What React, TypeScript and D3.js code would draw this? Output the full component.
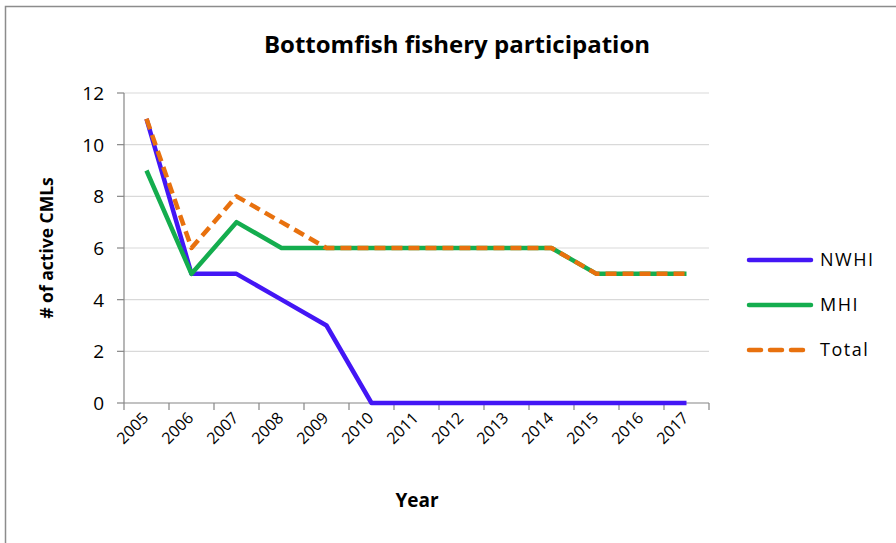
import React from "react";
import * as d3 from "d3";

const years = ["2005", "2006", "2007", "2008", "2009", "2010", "2011", "2012", "2013", "2014", "2015", "2016", "2017"];
const nwhi = [11, 5, 5, 4, 3, 0, 0, 0, 0, 0, 0, 0, 0];
const mhi = [9, 5, 7, 6, 6, 6, 6, 6, 6, 6, 5, 5, 5];
const total = [11, 6, 8, 7, 6, 6, 6, 6, 6, 6, 5, 5, 5];
const yTicks = [0, 2, 4, 6, 8, 10, 12];

const series = [
  { name: "NWHI", values: nwhi, color: "#4316f5", dash: null },
  { name: "MHI", values: mhi, color: "#14ad4e", dash: null },
  { name: "Total", values: total, color: "#e8710e", dash: "11 6" },
];

const W = 896;
const H = 543;
const font = "'Open Sans', Lato, sans-serif";

const App = () => {
  const x = d3.scaleBand().domain(years).range([124, 709]);
  const y = d3.scaleLinear().domain([0, 12]).range([403, 93]);
  const line = d3
    .line<number>()
    .x((d, i) => x(years[i])! + x.bandwidth() / 2)
    .y((d) => y(d));

  const boundaries = [...years.map((yr) => x(yr)!), x.range()[1]];

  return (
    <svg width={W} height={H} style={{ position: "absolute", left: 0, top: 0 }} fontFamily={font}>
      <rect x={0} y={0} width={W} height={H} fill="#fff" />
      {/* chart border */}
      <path d={`M5.5,${H} V6.5 H${W}`} fill="none" stroke="#8c8c8c" strokeWidth={1.5} />

      <text x={457} y={53} textAnchor="middle" fontSize={24} fontWeight="bold" fill="#000">
        Bottomfish fishery participation
      </text>

      {/* gridlines */}
      {yTicks.filter((t) => t > 0).map((t) => (
        <line key={t} x1={124} x2={709} y1={y(t)} y2={y(t)} stroke="#d9d9d9" strokeWidth={1.2} />
      ))}

      {/* y axis */}
      <line x1={124} x2={124} y1={93} y2={403} stroke="#868686" strokeWidth={1.2} />
      {yTicks.map((t) => (
        <g key={t}>
          <line x1={117} x2={124} y1={y(t)} y2={y(t)} stroke="#868686" strokeWidth={1.2} />
          <text x={104} y={y(t)} dy="0.36em" textAnchor="end" fontSize={19} fill="#000">
            {t}
          </text>
        </g>
      ))}
      <text
        transform={`translate(53,${y(6)}) rotate(-90)`}
        textAnchor="middle"
        fontSize={17.5}
        fontWeight="bold"
        fill="#000"
      >
        # of active CMLs
      </text>

      {/* x axis */}
      <line x1={124} x2={709} y1={403} y2={403} stroke="#868686" strokeWidth={1.2} />
      {boundaries.map((b, i) => (
        <line key={i} x1={b} x2={b} y1={403} y2={410} stroke="#868686" strokeWidth={1.2} />
      ))}
      {years.map((yr) => (
        <text
          key={yr}
          transform={`translate(${x(yr)! + x.bandwidth() / 2 + 3},${419}) rotate(-45)`}
          textAnchor="end"
          fontSize={16}
          fill="#000"
        >
          {yr}
        </text>
      ))}
      <text x={417} y={507} textAnchor="middle" fontSize={19} fontWeight="bold" fill="#000">
        Year
      </text>

      {/* series */}
      {series.map((s) => (
        <path
          key={s.name}
          d={line(s.values) || ""}
          fill="none"
          stroke={s.color}
          strokeWidth={4.5}
          strokeDasharray={s.dash || undefined}
          strokeLinejoin="round"
        />
      ))}

      {/* legend */}
      {series.map((s, i) => {
        const ly = 260 + i * 45;
        return (
          <g key={s.name}>
            <line
              x1={749}
              x2={811}
              y1={ly}
              y2={ly}
              stroke={s.color}
              strokeWidth={4.5}
              strokeLinecap="round"
              strokeDasharray={s.dash ? "12 9" : undefined}
            />
            <text x={820} y={ly} dy="0.36em" fontSize={18} letterSpacing={1.5} fill="#000">
              {s.name}
            </text>
          </g>
        );
      })}
    </svg>
  );
};

export default App;
